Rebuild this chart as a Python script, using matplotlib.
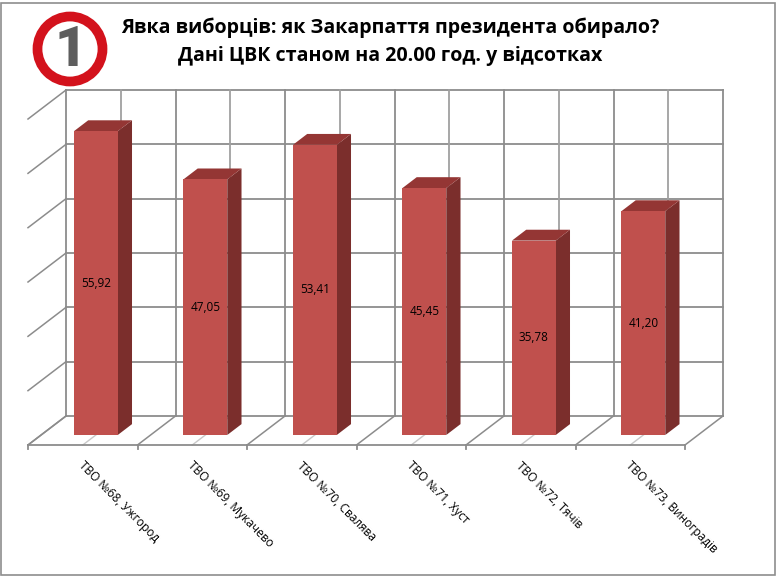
import numpy as np
import matplotlib.pyplot as plt
from matplotlib.patches import Polygon, Circle, Rectangle

plt.rcParams['font.family'] = ['Open Sans', 'DejaVu Sans']

districts = ['ТВО №68, Ужгород', 'ТВО №69, Мукачево', 'ТВО №70, Свалява',
             'ТВО №71, Хуст', 'ТВО №72, Тячів', 'ТВО №73, Виноградів']
turnout = [55.92, 47.05, 53.41, 45.45, 35.78, 41.20]
value_labels = ['55,92', '47,05', '53,41', '45,45', '35,78', '41,20']
y_ticks = [0, 10, 20, 30, 40, 50, 60]

title = 'Явка виборців: як Закарпаття президента обирало?\nДані ЦВК станом на 20.00 год. у відсотках'

# pixel scale of the chart (one category / one percent)
PX_CAT = 109.5
PX_VAL = 5.433
# oblique depth offset, in data units, for full depth
DX = 38 / PX_CAT
DY = 29 / PX_VAL

front_col = '#C0504D'
side_col = '#7B2E2C'
top_col = '#943634'
grid_col = '#8C8C8C'
light_col = '#C8C8C8'


def proj(x, v, d):
    return (x + DX * d, v + DY * d)


fig = plt.figure(figsize=(7.77, 5.78), dpi=100)
ax = fig.add_axes([0, 0, 1, 1])
ax.set_xlim(-28 / PX_CAT, (777 - 28) / PX_CAT)
ax.set_ylim(-(578 - 445) / PX_VAL, 445 / PX_VAL)
ax.axis('off')

n = len(districts)
vmax = y_ticks[-1]

# back wall horizontal gridlines and left wall diagonals
for t in y_ticks:
    x0, y0 = proj(0, t, 1)
    x1, y1 = proj(n, t, 1)
    ax.plot([x0, x1], [y0, y1], color=grid_col, lw=1.3, zorder=1)
    xa, ya = proj(0, t, 0)
    ax.plot([xa, x0], [ya, y0], color=grid_col, lw=1.1, zorder=1)

# back wall verticals (every half category)
for k in range(2 * n + 1):
    xk = k / 2
    xb, yb = proj(xk, 0, 1)
    xt, yt = proj(xk, vmax, 1)
    ax.plot([xb, xt], [yb, yt], color=grid_col if k % 2 == 0 else '#A0A0A0',
            lw=1.3, zorder=1)

# floor
for k in range(n + 1):
    xa, ya = proj(k, 0, 0)
    xb, yb = proj(k, 0, 1)
    ax.plot([xa, xb], [ya, yb], color=grid_col, lw=1.1, zorder=1)
    ax.plot([k, k], [0, -0.8], color=grid_col, lw=1.3, zorder=1)
for k in range(n):
    xa, ya = proj(k + 0.5, 0, 0)
    xb, yb = proj(k + 0.5, 0, 1)
    ax.plot([xa, xb], [ya, yb], color=light_col, lw=1.0, zorder=1)
ax.plot([0, n], [0, 0], color=grid_col, lw=1.3, zorder=1)

# bars
f0, f1 = 0.345, 0.72
half_w = 0.2
for i, v in enumerate(turnout):
    c = i + 0.5 + DX * f0
    yb = DY * f0
    xl, xr = c - half_w, c + half_w
    front = [(xl, yb), (xr, yb), (xr, yb + v), (xl, yb + v)]
    dd = f1 - f0
    side = [(xr, yb), (xr + DX * dd, yb + DY * dd),
            (xr + DX * dd, yb + v + DY * dd), (xr, yb + v)]
    top = [(xl, yb + v), (xr, yb + v), (xr + DX * dd, yb + v + DY * dd),
           (xl + DX * dd, yb + v + DY * dd)]
    ax.add_patch(Polygon(side, closed=True, fc=side_col, ec='none', zorder=3))
    ax.add_patch(Polygon(top, closed=True, fc=top_col, ec='none', zorder=3))
    ax.add_patch(Polygon(front, closed=True, fc=front_col, ec='none', zorder=3))
    ax.text(c, yb + v / 2, value_labels[i], ha='center', va='center',
            fontsize=8.5, color='black', zorder=4)

# category labels
for i, name in enumerate(districts):
    ax.text(i + 0.52, -2.6, name, rotation=-45, rotation_mode='anchor',
            ha='left', va='top', fontsize=8.6, color='black')

# title
fig.text(0.502, 0.928, title, ha='center', va='center', fontsize=14.1,
         fontweight='bold', linespacing=1.49)

# logo
lx, ly = 70 / 777, 1 - 49 / 578
ring = Circle((lx * 7.77, ly * 5.78), 0.325, transform=fig.dpi_scale_trans,
              fc='white', ec='#D3121C', lw=7, zorder=5)
fig.patches.append(ring)
fig.text(lx + 0.001, ly - 0.002, '1', ha='center', va='center', fontsize=40,
         fontweight='heavy', color='#5E5E5E', family='Roboto', zorder=6)

# chart border
fig.patches.append(Rectangle((0.5 / 777, 1 - 575 / 578), 774.5 / 777, 572.5 / 578,
                             transform=fig.transFigure, fill=False,
                             ec='#8E8E8E', lw=1.2))

fig.savefig('out.png', dpi=100)
